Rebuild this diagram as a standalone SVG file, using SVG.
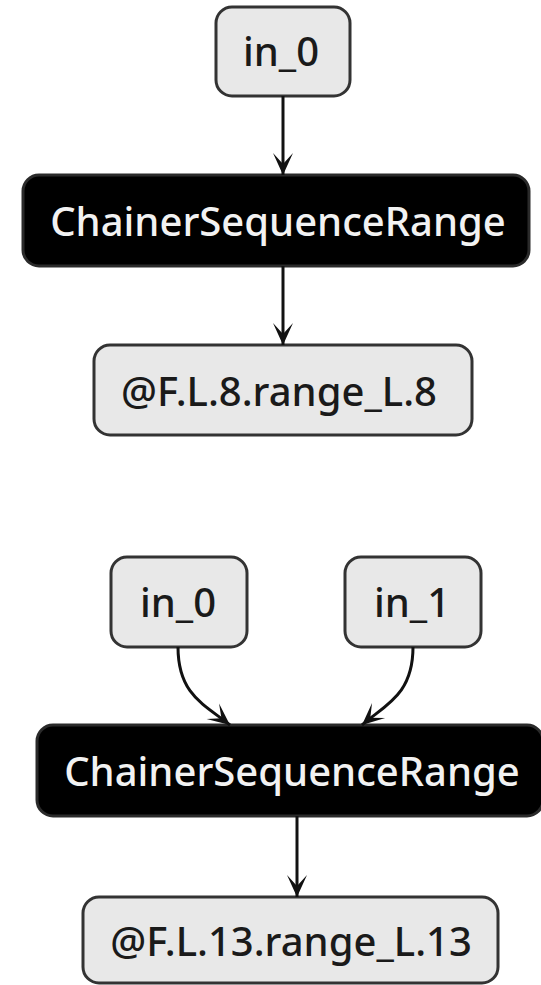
<svg xmlns="http://www.w3.org/2000/svg" width="541" height="985" viewBox="0 0 541 985">
  <style>
    .in rect { fill: #e8e8e8; stroke: #333333; stroke-width: 3; }
    .in text { fill: #1a1a1a; }
    .op rect { fill: #000000; stroke: #2a2a2a; stroke-width: 3; }
    .op text { fill: #f2f2f2; }
    text { font-family: "Noto Sans", "Open Sans", sans-serif; font-size: 40px; font-weight: 500; text-anchor: middle; }
    .edge { fill: none; stroke: #111111; stroke-width: 3; marker-end: url(#arrow); }
  </style>
  <defs>
    <marker id="arrow" markerUnits="userSpaceOnUse" viewBox="-24 -12 26 24" markerWidth="26" markerHeight="24" refX="0" refY="0" orient="auto">
      <path d="M0,0 L-22,-10 L-11,0 L-22,10 Z" fill="#111111"/>
    </marker>
  </defs>

  <!-- first graph -->
  <g id="g1_in_0" class="in">
    <rect x="216" y="7" width="134" height="89" rx="16"/>
    <text x="281" y="66">in_0</text>
  </g>
  <g id="g1_chainer" class="op">
    <rect x="23" y="175" width="506" height="91" rx="16"/>
    <text x="278" y="236">ChainerSequenceRange</text>
  </g>
  <g id="g1_range" class="in">
    <rect x="94" y="345" width="378" height="90" rx="16"/>
    <text x="279" y="406">@F.L.8.range_L.8</text>
  </g>

  <!-- second graph -->
  <g id="g2_in_0" class="in">
    <rect x="111" y="557" width="136" height="90" rx="16"/>
    <text x="178" y="617">in_0</text>
  </g>
  <g id="g2_in_1" class="in">
    <rect x="345" y="557" width="136" height="90" rx="16"/>
    <text x="412" y="617">in_1</text>
  </g>
  <g id="g2_chainer" class="op">
    <rect x="37" y="725" width="506" height="91" rx="16"/>
    <text x="292" y="786">ChainerSequenceRange</text>
  </g>
  <g id="g2_range" class="in">
    <rect x="83" y="897" width="415" height="86" rx="16"/>
    <text x="291" y="956">@F.L.13.range_L.13</text>
  </g>

  <g id="edges">
    <path class="edge" d="M283,96 L283,175"/>
    <path class="edge" d="M283,266 L283,345"/>
    <path class="edge" d="M178,647 C178,695 205,705 230,725"/>
    <path class="edge" d="M413,647 C413,695 385,705 362,725"/>
    <path class="edge" d="M297,816 L297,897"/>
  </g>
</svg>
